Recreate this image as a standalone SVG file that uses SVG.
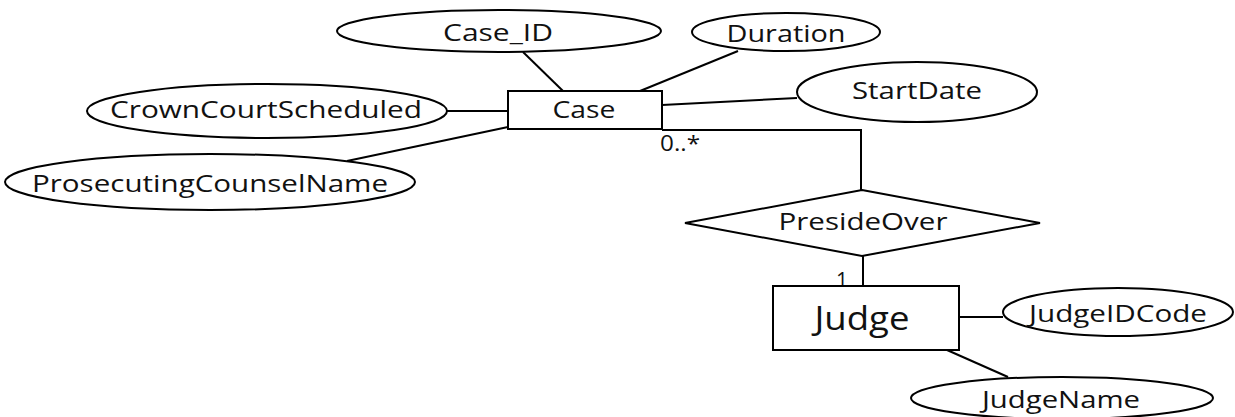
<svg xmlns="http://www.w3.org/2000/svg" width="1235" height="417" viewBox="0 0 1235 417">
  <style>
    .shape { fill: #ffffff; stroke: #000000; stroke-width: 2; }
    .link { fill: none; stroke: #000000; stroke-width: 2; }
    .lbl { font-family: "Open Sans", "Liberation Sans", sans-serif; font-size: 24px; fill: #111111; text-anchor: middle; }
    .big { font-size: 32px; }
    .card { font-family: "Open Sans", "Liberation Sans", sans-serif; font-size: 21px; fill: #111111; }
  </style>
  <rect width="1235" height="417" fill="#ffffff"/>

  <!-- connectors -->
  <g id="connectors">
    <line class="link" x1="523" y1="52" x2="563" y2="91"/>
    <line class="link" x1="640" y1="91" x2="738" y2="51"/>
    <line class="link" x1="447" y1="111" x2="508" y2="111"/>
    <line class="link" x1="347" y1="161" x2="508" y2="127"/>
    <line class="link" x1="662" y1="105" x2="797" y2="98"/>
    <polyline class="link" points="662,130 861,130 861,191"/>
    <line class="link" x1="863" y1="256" x2="863" y2="286"/>
    <line class="link" x1="959" y1="317" x2="1003" y2="317"/>
    <line class="link" x1="947" y1="350" x2="1008" y2="377"/>
    <text class="card" x="660" y="151" textLength="40" lengthAdjust="spacingAndGlyphs">0..*</text>
    <text class="card" x="836" y="288">1</text>
  </g>

  <g id="case-id">
    <ellipse class="shape" cx="499" cy="31" rx="162" ry="21"/>
    <text class="lbl" x="498" y="41" textLength="110" lengthAdjust="spacingAndGlyphs">Case_ID</text>
  </g>
  <g id="duration">
    <ellipse class="shape" cx="786" cy="32" rx="94" ry="19"/>
    <text class="lbl" x="786" y="42" textLength="119" lengthAdjust="spacingAndGlyphs">Duration</text>
  </g>
  <g id="case">
    <rect class="shape" x="508" y="91" width="154" height="38"/>
    <text class="lbl" x="584" y="118" textLength="63" lengthAdjust="spacingAndGlyphs">Case</text>
  </g>
  <g id="crown-court-scheduled">
    <ellipse class="shape" cx="267" cy="111" rx="180" ry="27"/>
    <text class="lbl" x="266" y="118" textLength="312" lengthAdjust="spacingAndGlyphs">CrownCourtScheduled</text>
  </g>
  <g id="prosecuting-counsel-name">
    <ellipse class="shape" cx="210" cy="182" rx="205" ry="28"/>
    <text class="lbl" x="210" y="192" textLength="356" lengthAdjust="spacingAndGlyphs">ProsecutingCounselName</text>
  </g>
  <g id="start-date">
    <ellipse class="shape" cx="917" cy="92" rx="120" ry="30"/>
    <text class="lbl" x="917" y="99" textLength="130" lengthAdjust="spacingAndGlyphs">StartDate</text>
  </g>
  <g id="preside-over">
    <polygon class="shape" points="862,190 1040,223 862,256 685,223"/>
    <text class="lbl" x="863" y="230" textLength="169" lengthAdjust="spacingAndGlyphs">PresideOver</text>
  </g>
  <g id="judge">
    <rect class="shape" x="773" y="286" width="186" height="64"/>
    <text class="lbl big" x="862" y="330" textLength="95" lengthAdjust="spacingAndGlyphs">Judge</text>
  </g>
  <g id="judge-id-code">
    <ellipse class="shape" cx="1118" cy="312" rx="115" ry="24"/>
    <text class="lbl" x="1118" y="322" textLength="178" lengthAdjust="spacingAndGlyphs">JudgeIDCode</text>
  </g>
  <g id="judge-name">
    <ellipse class="shape" cx="1062" cy="398" rx="151" ry="21"/>
    <text class="lbl" x="1061" y="408" textLength="158" lengthAdjust="spacingAndGlyphs">JudgeName</text>
  </g>
</svg>
